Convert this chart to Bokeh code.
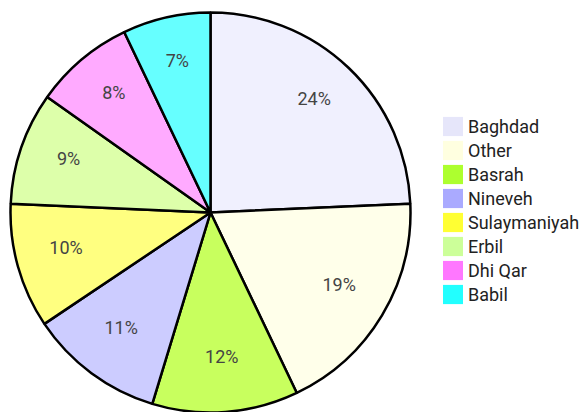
import numpy as np
from bokeh.plotting import figure
from bokeh.models import ColumnDataSource, Legend, LegendItem, Range1d
from bokeh.core.properties import value
from bokeh.embed import file_html
from bokeh.resources import INLINE

# ---- data ----
categories = ["Baghdad", "Other", "Basrah", "Nineveh", "Sulaymaniyah", "Erbil", "Dhi Qar", "Babil"]
shares = [24.3, 18.6, 11.8, 10.9, 10.1, 9.1, 8.1, 7.1]
labels = ["24%", "19%", "12%", "11%", "10%", "9%", "8%", "7%"]
slice_colors = ["#F0F0FE", "#FFFFEA", "#C8FF5E", "#CCCCFF", "#FFFF80", "#DDFFAA", "#FFAAFF", "#66FFFF"]
swatch_colors = ["#E6E6FA", "#FFFFE0", "#ADFF2F", "#AAAAFF", "#FFFF33", "#CCFF99", "#FF77FF", "#22FFFF"]

W, H = 584, 412
cx, cy, R = 210, 200, 200

frac = np.array(shares) / np.sum(shares)
cum = np.concatenate([[0.0], np.cumsum(frac)])
start = np.pi / 2 - 2 * np.pi * cum[:-1]
end = np.pi / 2 - 2 * np.pi * cum[1:]
mid = (start + end) / 2
lr = 0.75 * R

src = ColumnDataSource(dict(
    cat=categories, start=start, end=end, color=slice_colors, swatch=swatch_colors,
    lx=cx + lr * np.cos(mid), ly=cy + lr * np.sin(mid) + 5.5, label=labels,
    nx=[np.nan] * len(categories), ny=[np.nan] * len(categories),
))

p = figure(width=W, height=H, output_backend="svg", toolbar_location=None,
           x_range=Range1d(0, W), y_range=Range1d(0, H), min_border=0)
p.axis.visible = False
p.grid.visible = False
p.outline_line_color = None
p.background_fill_color = "white"
p.border_fill_color = "white"

p.wedge(x=cx, y=cy, radius=R, start_angle="start", end_angle="end", direction="clock",
        fill_color="color", line_color="black", line_width=2.5, source=src)

p.text(x="lx", y="ly", text="label", source=src, text_align="center", text_baseline="middle",
       text_font=value("Roboto"), text_font_size="18px", text_color="#444444")

sw = p.rect(x="nx", y="ny", width=1, height=1, fill_color="swatch", line_color=None, source=src)

items = [LegendItem(label=c, renderers=[sw], index=i) for i, c in enumerate(categories)]
legend = Legend(items=items, location=(440, 106), orientation="vertical",
                glyph_width=25, glyph_height=24, label_standoff=3, spacing=0,
                padding=0, margin=0, border_line_color=None, background_fill_alpha=0,
                label_text_font="Roboto", label_text_font_size="18px", label_text_color="#222222",
                label_height=20)
p.add_layout(legend, "center")

open("out.html", "w").write(file_html(p, INLINE))
